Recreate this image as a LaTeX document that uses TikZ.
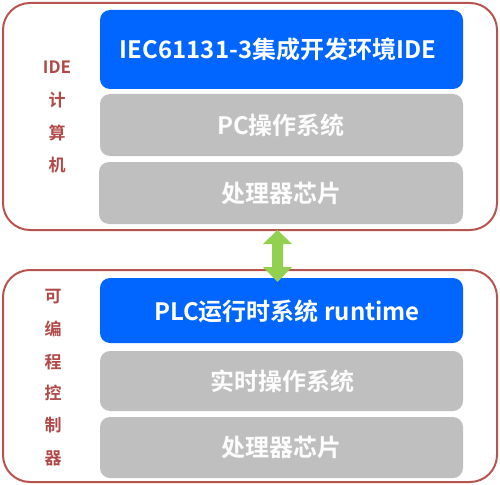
\documentclass[tikz,border=0pt]{standalone}
\usepackage{fontspec}
\setmainfont{Noto Sans CJK SC}[BoldFont={* Bold}]
\definecolor{frame}{HTML}{B85450}
\definecolor{lab}{HTML}{B04A48}
\definecolor{blu}{HTML}{0066FF}
\definecolor{gry}{HTML}{BFBFBF}
\definecolor{grn}{HTML}{92D050}
\begin{document}
\begin{tikzpicture}[x=1pt,y=-1pt,
  outer/.style={draw=frame,line width=2pt,rounded corners=27pt},
  bluebox/.style={fill=blu,rounded corners=10pt},
  graybox/.style={fill=gry,rounded corners=10pt},
  btext/.style={text=white,font=\bfseries\fontsize{24}{27}\selectfont},
  gtext/.style={text=white!95!gry,font=\bfseries\fontsize{24}{27}\selectfont},
  ltext/.style={text=lab,font=\bfseries\fontsize{17}{20}\selectfont}]
\useasboundingbox (0,0) rectangle (500,484);
% top group
\draw[outer] (3,3) rectangle (497,230);
\fill[bluebox] (100,10) rectangle (463,89);
\fill[graybox] (100,94) rectangle (463,156);
\fill[graybox] (99,162) rectangle (463,224);
\node[btext] (t1) at (278,49) {IEC61131-3集成开发环境IDE};
\node[gtext] (t2) at (281,125) {PC操作系统};
\node[gtext] (t3) at (281,193) {处理器芯片};
\node[ltext] (l1) at (57,67) {IDE};
\node[ltext] (l2) at (57,100) {计};
\node[ltext] (l3) at (57,133) {算};
\node[ltext] (l4) at (57,165) {机};
% bottom group
\draw[outer] (3,270) rectangle (497,482);
\fill[bluebox] (100,278) rectangle (463,343);
\fill[graybox] (100,351) rectangle (463,411);
\fill[graybox] (100,417) rectangle (463,478);
\node[btext] (b1) at (287,311) {PLC运行时系统 runtime};
\node[gtext] (b2) at (282,381) {实时操作系统};
\node[gtext] (b3) at (281,447) {处理器芯片};
\node[ltext] (m1) at (53,297) {可};
\node[ltext] (m2) at (53,329) {编};
\node[ltext] (m3) at (53,362) {程};
\node[ltext] (m4) at (53,393) {控};
\node[ltext] (m5) at (53,425) {制};
\node[ltext] (m6) at (53,458) {器};
% double arrow
\coordinate (ac) at (277.5,230);
\fill[grn] (ac) -- ++(14.5,14) -- ++(-9,0) -- ++(0,23) -- ++(9,0)
  -- ++(-14.5,15) -- ++(-14.5,-15) -- ++(9,0) -- ++(0,-23) -- ++(-9,0) -- cycle;
\end{tikzpicture}
\end{document}
